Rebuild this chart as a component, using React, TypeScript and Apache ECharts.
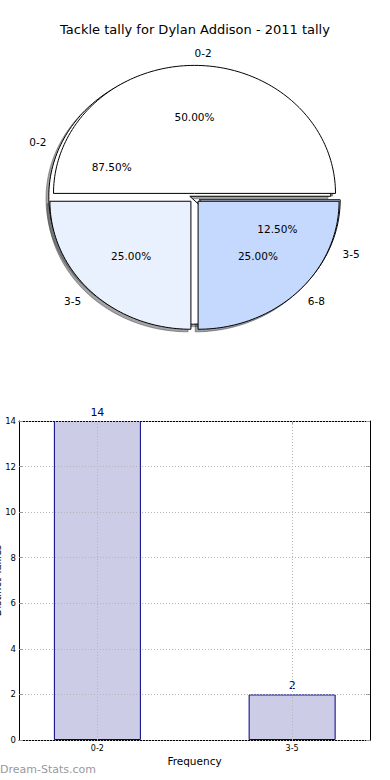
import React, { useEffect, useRef } from 'react';
import * as echarts from 'echarts';

const titleText = 'Tackle tally for Dylan Addison - 2011 tally';
const innerPieLabels = ['0-2', '3-5', '6-8'];
const innerPieValues = [2, 1, 1];
const outerPieLabels = ['0-2', '3-5'];
const outerPieValues = [14, 2];
const barCategories = ['0-2', '3-5'];
const barValues = [14, 2];
const yAxisMax = 14;
const yAxisStep = 2;
const xAxisName = 'Frequency';
const yAxisName = 'Distinct Tallies';
const watermark = 'Dream-Stats.com';

const PIE_COLORS = ['#ffffff', '#eaf1fe', '#c5d8fe'];
const CX = 194.5;
const CY = 198;
const RX = 141;
const RY = 128;
const EXPLODE = 0.036;
const FONT = 'DejaVu Sans';

function hexToRgb(h: string): number[] {
  const s = h.replace('#', '');
  return [0, 2, 4].map((k) => parseInt(s.slice(k, k + 2), 16));
}

function pieRenderer(values: number[], labels: string[], wedgeZ: number) {
  const total = values.reduce((a, b) => a + b, 0);
  return (params: any, api: any) => {
    const i = params.dataIndex;
    const v = api.value(0);
    let before = 0;
    for (let k = 0; k < i; k++) before += values[k];
    const a0 = (before / total) * Math.PI * 2;
    const a1 = ((before + v) / total) * Math.PI * 2;
    const mid = (a0 + a1) / 2;
    const cosm = Math.cos(mid);
    const sinm = Math.sin(mid);
    const ox = CX + EXPLODE * RX * cosm;
    const oy = CY - EXPLODE * RY * sinm;
    const pts: number[][] = [[ox, oy]];
    const n = Math.max(4, Math.ceil((a1 - a0) / (Math.PI / 120)));
    for (let k = 0; k <= n; k++) {
      const a = a0 + ((a1 - a0) * k) / n;
      pts.push([ox + RX * Math.cos(a), oy - RY * Math.sin(a)]);
    }
    const shadowPts = pts.map(([x, y]) => [x - 0.02 * RX, y + 0.02 * RY]);
    const color = PIE_COLORS[i % PIE_COLORS.length];
    const [r, g, b] = hexToRgb(color);
    const sc = `rgba(${Math.round(r * 0.3)},${Math.round(g * 0.3)},${Math.round(b * 0.3)},0.5)`;
    const pct = ((v / total) * 100).toFixed(2) + '%';
    const lx = ox + 1.1 * RX * cosm;
    const ly = oy - 1.1 * RY * sinm;
    const px = ox + 0.6 * RX * cosm;
    const py = oy - 0.6 * RY * sinm;
    return {
      type: 'group',
      children: [
        {
          type: 'polygon',
          z2: 0,
          shape: { points: shadowPts },
          style: { fill: sc, stroke: sc, lineWidth: 1 },
        },
        {
          type: 'polygon',
          z2: wedgeZ,
          shape: { points: pts },
          style: { fill: color, stroke: '#000', lineWidth: 1 },
        },
        {
          type: 'text',
          z2: 50,
          x: lx,
          y: ly,
          style: {
            text: labels[i],
            fontSize: 10.5,
            fontFamily: FONT,
            fill: '#000',
            align: cosm > 0 ? 'left' : 'right',
            verticalAlign: 'middle',
          },
        },
        {
          type: 'text',
          z2: 50,
          x: px,
          y: py,
          style: {
            text: pct,
            fontSize: 10.5,
            fontFamily: FONT,
            fill: '#000',
            align: 'center',
            verticalAlign: 'middle',
          },
        },
      ],
    };
  };
}

export default function App() {
  const ref = useRef<HTMLDivElement>(null);
  useEffect(() => {
    if (!ref.current) return;
    const chart = echarts.init(ref.current, null, { renderer: 'svg' });
    const gridLine = { color: '#b4b4b4', width: 1, type: [1, 2] as any };
    const frameLine = { show: true, onZero: false, lineStyle: { color: '#000', width: 1 } };
    const innerTick = { show: true, inside: true, length: 4, lineStyle: { color: '#999' } };
    chart.setOption({
      animation: false,
      backgroundColor: '#fff',
      title: {
        text: titleText,
        left: 'center',
        top: 23,
        padding: 0,
        textStyle: { fontSize: 13, fontWeight: 'normal', fontFamily: FONT, color: '#000' },
      },
      grid: [
        { left: 19, top: 421, width: 351, height: 319, containLabel: false },
        { left: -0.5, top: 421, width: 390, height: 319, containLabel: false },
      ],
      xAxis: [
        {
          gridIndex: 0,
          type: 'value',
          position: 'bottom',
          min: 0,
          max: 1,
          axisLine: frameLine,
          axisTick: { show: false },
          axisLabel: { show: false },
          splitLine: { show: false },
          name: xAxisName,
          nameLocation: 'middle',
          nameGap: 15,
          nameTextStyle: { fontSize: 10.5, fontFamily: FONT, color: '#000' },
        },
        {
          gridIndex: 0,
          type: 'value',
          position: 'top',
          min: 0,
          max: 1,
          axisLine: frameLine,
          axisTick: { show: false },
          axisLabel: { show: false },
          splitLine: { show: false },
        },
        {
          gridIndex: 1,
          type: 'category',
          position: 'bottom',
          data: barCategories,
          boundaryGap: true,
          axisLine: { show: false },
          axisTick: { ...innerTick, alignWithLabel: true },
          axisLabel: { fontSize: 8, fontFamily: FONT, color: '#000', margin: 4 },
          splitLine: { show: false },
        },
        {
          gridIndex: 1,
          type: 'category',
          position: 'top',
          data: barCategories,
          boundaryGap: true,
          axisLine: { show: false },
          axisTick: { ...innerTick, alignWithLabel: true },
          axisLabel: { show: false },
          splitLine: { show: false },
        },
      ],
      yAxis: [
        {
          gridIndex: 0,
          type: 'value',
          position: 'left',
          min: 0,
          max: yAxisMax,
          interval: yAxisStep,
          z: 3,
          axisLine: frameLine,
          axisTick: innerTick,
          axisLabel: { fontSize: 8.5, fontFamily: FONT, color: '#000', margin: 3 },
          splitLine: { show: true, lineStyle: gridLine },
        },
        {
          gridIndex: 0,
          type: 'value',
          position: 'right',
          min: 0,
          max: yAxisMax,
          interval: yAxisStep,
          axisLine: frameLine,
          axisTick: innerTick,
          axisLabel: { show: false },
          splitLine: { show: false },
        },
        {
          gridIndex: 1,
          type: 'value',
          min: 0,
          max: yAxisMax,
          interval: yAxisStep,
          show: false,
        },
      ],
      graphic: [
        {
          type: 'text',
          left: 0,
          top: 764,
          style: { text: watermark, fontSize: 11, fontFamily: FONT, fill: '#999999' },
        },
        {
          type: 'text',
          x: 2,
          y: 580.5,
          rotation: Math.PI / 2,
          style: {
            text: yAxisName,
            fontSize: 10,
            fontFamily: FONT,
            fill: '#000',
            align: 'center',
            verticalAlign: 'bottom',
          },
        },
      ],
      series: [
        {
          type: 'custom',
          coordinateSystem: 'none',
          silent: true,
          z: 2,
          renderItem: pieRenderer(outerPieValues, outerPieLabels, 10),
          data: outerPieValues.map((v) => [v]),
        },
        {
          type: 'custom',
          coordinateSystem: 'none',
          silent: true,
          z: 2,
          renderItem: pieRenderer(innerPieValues, innerPieLabels, 20),
          data: innerPieValues.map((v) => [v]),
        },
        {
          type: 'bar',
          xAxisIndex: 2,
          yAxisIndex: 2,
          barWidth: 87,
          data: barValues,
          itemStyle: { color: '#ccccE6', borderColor: '#000080', borderWidth: 1 },
          label: {
            show: true,
            position: 'top',
            distance: 3,
            fontSize: 11,
            fontFamily: FONT,
            color: '#000080',
          },
          markLine: {
            silent: true,
            symbol: 'none',
            z: 5,
            label: { show: false },
            lineStyle: gridLine,
            data: barCategories.map((c) => ({ xAxis: c })),
          },
        },
      ],
    });
    return () => chart.dispose();
  }, []);
  return <div ref={ref} style={{ position: 'absolute', left: 0, top: 0, width: 390, height: 780 }} />;
}
